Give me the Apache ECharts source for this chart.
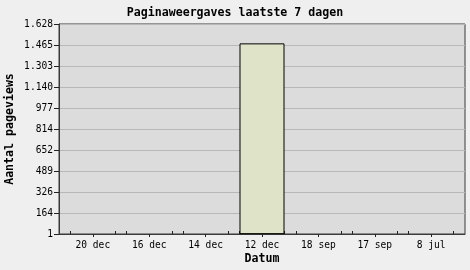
<!DOCTYPE html>
<html>
<head>
<meta charset="utf-8">
<script src="https://cdn.jsdelivr.net/npm/echarts@6/dist/echarts.min.js"></script>
<style>
html,body{margin:0;padding:0;background:#efefef;}
#c{width:470px;height:270px;}
</style>
</head>
<body>
<div id="c"></div>
<script>
const categories = ['20 dec', '16 dec', '14 dec', '12 dec', '18 sep', '17 sep', '8 jul'];
const pageviews = [0, 0, 0, 1478, 0, 0, 0];
const yTickLabels = ['1', '164', '326', '489', '652', '814', '977', '1.140', '1.303', '1.465', '1.628'];
const yMin = 1, yMax = 1628;
const yStep = (yMax - yMin) / 10;

const mono = 'DejaVu Sans Mono';
const chart = echarts.init(document.getElementById('c'), null, {renderer: 'canvas'});
const centers = categories.map((c, i) => i);
const edgeTicks = [];
categories.forEach((c, i) => { edgeTicks.push(i - 0.4, i + 0.4); });

chart.setOption({
  animation: false,
  backgroundColor: '#efefef',
  title: {
    text: 'Paginaweergaves laatste 7 dagen',
    left: 'center',
    top: 2,
    textStyle: {fontFamily: mono, fontSize: 11.6, fontWeight: 'bold', color: '#000'}
  },
  grid: {
    left: 59, top: 24, width: 406, height: 210,
    outerBoundsMode: 'none', containLabel: false,
    show: true, backgroundColor: '#dcdcdc', borderColor: '#3a3a3a', borderWidth: 1
  },
  xAxis: [{
    type: 'value', min: -0.6, max: 6.6,
    name: 'Datum', nameLocation: 'middle', nameGap: 19, nameMoveOverlap: false,
    nameTextStyle: {fontFamily: mono, fontSize: 11.6, fontWeight: 'bold', color: '#000', verticalAlign: 'top'},
    axisLine: {show: true, onZero: false, lineStyle: {color: '#3a3a3a', width: 1}},
    axisTick: {show: true, customValues: centers, length: 3, inside: false, lineStyle: {color: '#222'}},
    axisLabel: {customValues: centers, formatter: v => categories[Math.round(v)] || '',
      fontFamily: mono, fontSize: 9.6, color: '#000', margin: 6},
    splitLine: {show: false}
  }, {
    type: 'value', min: -0.6, max: 6.6, position: 'bottom',
    axisLine: {show: false, onZero: false},
    axisTick: {show: true, customValues: edgeTicks, length: 3, inside: true, lineStyle: {color: '#222'}},
    axisLabel: {show: false},
    splitLine: {show: false}
  }],
  yAxis: {
    type: 'value', min: yMin, max: yMax, interval: yStep,
    name: 'Aantal pageviews', nameLocation: 'middle', nameGap: 49, nameRotate: 90, nameMoveOverlap: false,
    nameTextStyle: {fontFamily: mono, fontSize: 11.6, fontWeight: 'bold', color: '#000', verticalAlign: 'middle'},
    axisLine: {show: true, onZero: false, lineStyle: {color: '#3a3a3a', width: 1}},
    axisTick: {show: true, length: 5, inside: false, lineStyle: {color: '#222'}},
    axisLabel: {
      formatter: v => yTickLabels[Math.round((v - yMin) / yStep)] || '',
      fontFamily: mono, fontSize: 9.6, color: '#000', margin: 6
    },
    splitLine: {show: true, lineStyle: {color: '#b8b8b8', width: 1}}
  },
  series: [{
    type: 'bar',
    xAxisIndex: 0,
    data: categories.map((c, i) => [i, pageviews[i]]),
    barWidth: 45,
    itemStyle: {color: '#dfe4c9', borderColor: '#000', borderWidth: 1}
  }]
});
</script>
</body>
</html>
